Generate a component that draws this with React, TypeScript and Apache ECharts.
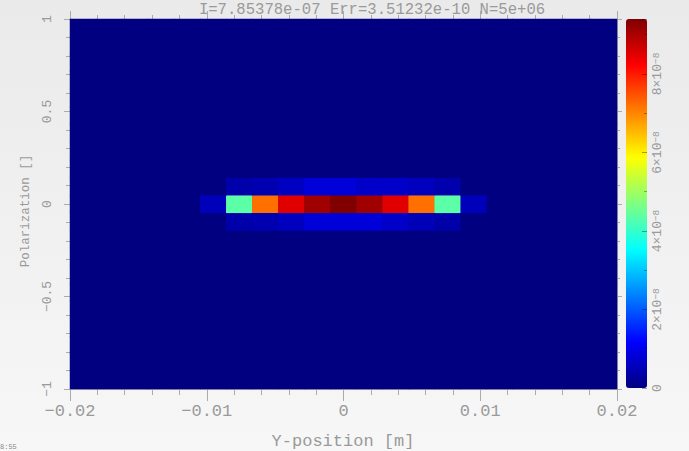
import React, { useEffect, useRef } from "react";
import * as echarts from "echarts";

// ---- data ----
const TITLE = "I=7.85378e-07 Err=3.51232e-10 N=5e+06";
const X_NAME = "Y-position [m]";
const Y_NAME = "Polarization []";
const CORNER_TEXT = "8:55";

const X_RANGE = [-0.02, 0.02];
const Y_RANGE = [-1, 1];
const N_X_BINS = 21;
const N_Y_BINS = 21;
const X_TICKS_INTERVAL = 0.01;
const Y_TICKS_INTERVAL = 0.5;
const COLOR_MAX = 9.4e-8;
const COLOR_TICK_INTERVAL = 2e-8;

// central row (y bin 10), x bins 5..15
const centerRow = [5.5e-9, 4.35e-8, 7.2e-8, 8.5e-8, 9.1e-8, 9.4e-8, 9.1e-8, 8.5e-8, 7.2e-8, 4.35e-8, 5.5e-9];
// row above (y bin 11), x bins 6..14
const upperRow = [3.9e-9, 4.4e-9, 6.2e-9, 8.1e-9, 8.1e-9, 6.7e-9, 6.7e-9, 5.7e-9, 4.1e-9];
// row below (y bin 9), x bins 6..14
const lowerRow = [3.9e-9, 4.4e-9, 5.7e-9, 8.1e-9, 8.1e-9, 8.1e-9, 6.7e-9, 5.3e-9, 3.8e-9];

const rows = [
  { yBin: 10, xStart: 5, values: centerRow },
  { yBin: 11, xStart: 6, values: upperRow },
  { yBin: 9, xStart: 6, values: lowerRow },
];

const JET = ["#000080", "#0000ff", "#0080ff", "#00ffff", "#80ff80", "#ffff00", "#ff8000", "#ff0000", "#800000"];

const FONT = '"Liberation Mono", "DejaVu Sans Mono", monospace';
const TEXT = "#9a9a9a";
const AXIS = "#ababab";

function buildCells() {
  const grid: number[][] = [];
  for (let y = 0; y < N_Y_BINS; y++) {
    grid.push(new Array(N_X_BINS).fill(0));
  }
  rows.forEach((r) => {
    r.values.forEach((v, k) => {
      grid[r.yBin][r.xStart + k] = v;
    });
  });
  const data: [number, number, number][] = [];
  for (let y = 0; y < N_Y_BINS; y++) {
    for (let x = 0; x < N_X_BINS; x++) data.push([x, y, grid[y][x]]);
  }
  return data;
}

const xCats = Array.from({ length: N_X_BINS }, (_, i) => String(i));
const yCats = Array.from({ length: N_Y_BINS }, (_, i) => String(i));

function fmtNum(v: number) {
  const r = Number(v.toFixed(4));
  if (r === 0) return "0";
  return (r < 0 ? "\u2212" : "") + String(Math.abs(r));
}

export default function App() {
  const ref = useRef<HTMLDivElement>(null);
  useEffect(() => {
    const chart = echarts.init(ref.current!, null, { renderer: "svg" });
    const L = 70, T = 19, W = 547, H = 370;
    const option: any = {
      animation: false,
      backgroundColor: "transparent",
      grid: [
        { left: L, top: T, width: W, height: H, show: true, backgroundColor: JET[0], borderWidth: 0 },
        { left: 626, top: 19, width: 21, height: 369 },
      ],
      xAxis: [
        { type: "category", gridIndex: 0, data: xCats, show: false, axisLine: { onZero: false } },
        {
          type: "value", gridIndex: 0, position: "bottom", min: X_RANGE[0], max: X_RANGE[1], interval: X_TICKS_INTERVAL,
          axisLine: { show: true, onZero: false, lineStyle: { color: AXIS } },
          axisTick: { show: true, length: 12, lineStyle: { color: AXIS } },
          minorTick: { show: true, splitNumber: 5, length: 6, lineStyle: { color: AXIS } },
          splitLine: { show: false },
          axisLabel: { color: TEXT, fontFamily: FONT, fontSize: 17, margin: 14, formatter: fmtNum },
        },
        {
          type: "value", gridIndex: 0, position: "top", min: X_RANGE[0], max: X_RANGE[1], interval: X_TICKS_INTERVAL,
          axisLine: { show: true, onZero: false, lineStyle: { color: AXIS } },
          axisTick: { show: true, length: 8, lineStyle: { color: AXIS } },
          minorTick: { show: true, splitNumber: 5, length: 4, lineStyle: { color: AXIS } },
          splitLine: { show: false },
          axisLabel: { show: false },
        },
        { type: "value", gridIndex: 1, show: false, min: 0, max: 1, axisLine: { onZero: false } },
      ],
      yAxis: [
        { type: "category", gridIndex: 0, data: yCats, show: false, axisLine: { onZero: false } },
        {
          type: "value", gridIndex: 0, position: "left", min: Y_RANGE[0], max: Y_RANGE[1], interval: Y_TICKS_INTERVAL,
          axisLine: { show: true, onZero: false, lineStyle: { color: AXIS } },
          axisTick: { show: true, length: 6, lineStyle: { color: AXIS } },
          minorTick: { show: true, splitNumber: 5, length: 4, lineStyle: { color: AXIS } },
          splitLine: { show: false },
          axisLabel: { color: TEXT, fontFamily: FONT, fontSize: 13, margin: 16, rotate: 90, formatter: fmtNum },
        },
        {
          type: "value", gridIndex: 0, position: "right", min: Y_RANGE[0], max: Y_RANGE[1], interval: Y_TICKS_INTERVAL,
          axisLine: { show: true, onZero: false, lineStyle: { color: AXIS } },
          axisTick: { show: true, length: 5, lineStyle: { color: AXIS } },
          minorTick: { show: true, splitNumber: 5, length: 3, lineStyle: { color: AXIS } },
          splitLine: { show: false },
          axisLabel: { show: false },
        },
        {
          type: "value", gridIndex: 1, position: "right", min: 0, max: COLOR_MAX, interval: COLOR_TICK_INTERVAL, z: 10,
          axisLine: { show: false, onZero: false },
          axisTick: { show: true, inside: true, length: 5, lineStyle: { color: "rgba(0,0,0,0.35)" } },
          minorTick: { show: true, splitNumber: 2, length: 3, lineStyle: { color: "rgba(0,0,0,0.3)" } },
          splitLine: { show: false },
          axisLabel: {
            rotate: 90, margin: 4, showMaxLabel: false, color: TEXT,
            formatter: (v: number) => {
              if (v === 0) return "{a|0}";
              const m = Math.round(v / 1e-8);
              return `{a|${m}\u00d710}{s|\u22128}`;
            },
            rich: {
              a: { fontFamily: FONT, fontSize: 13, color: TEXT },
              s: { fontFamily: FONT, fontSize: 9.5, color: TEXT, verticalAlign: "top" },
            },
          },
        },
      ],
      visualMap: {
        type: "continuous", min: 0, max: COLOR_MAX, seriesIndex: 0, dimension: 2, orient: "vertical",
        left: 626, top: 19, itemWidth: 21, itemHeight: 369, padding: 0, calculable: false, hoverLink: false,
        inRange: { color: JET },
      },
      series: [
        {
          type: "heatmap", xAxisIndex: 0, yAxisIndex: 0, data: buildCells(),
          itemStyle: { borderWidth: 0 },
          emphasis: { disabled: true },
          silent: true,
        },
      ],
      graphic: [
        { type: "text", x: 372, y: 9.5, style: { text: TITLE, fontFamily: FONT, fontSize: 15.6, fill: TEXT, align: "center", verticalAlign: "middle" } },
        { type: "text", x: 343, y: 441, style: { text: X_NAME, fontFamily: FONT, fontSize: 17, fill: TEXT, align: "center", verticalAlign: "middle" } },
        { type: "text", x: 26, y: 211, rotation: Math.PI / 2, style: { text: Y_NAME, fontFamily: FONT, fontSize: 12.5, fill: TEXT, align: "center", verticalAlign: "middle" } },
        { type: "text", x: 0, y: 447, style: { text: CORNER_TEXT, fontFamily: FONT, fontSize: 7, fill: "#888", align: "left", verticalAlign: "middle" } },
      ],
    };
    chart.setOption(option);
    return () => chart.dispose();
  }, []);
  return (
    <div
      ref={ref}
      style={{ position: "absolute", left: 0, top: 0, width: 689, height: 451, background: "linear-gradient(#eaeaea, #f7f7f7)" }}
    />
  );
}
